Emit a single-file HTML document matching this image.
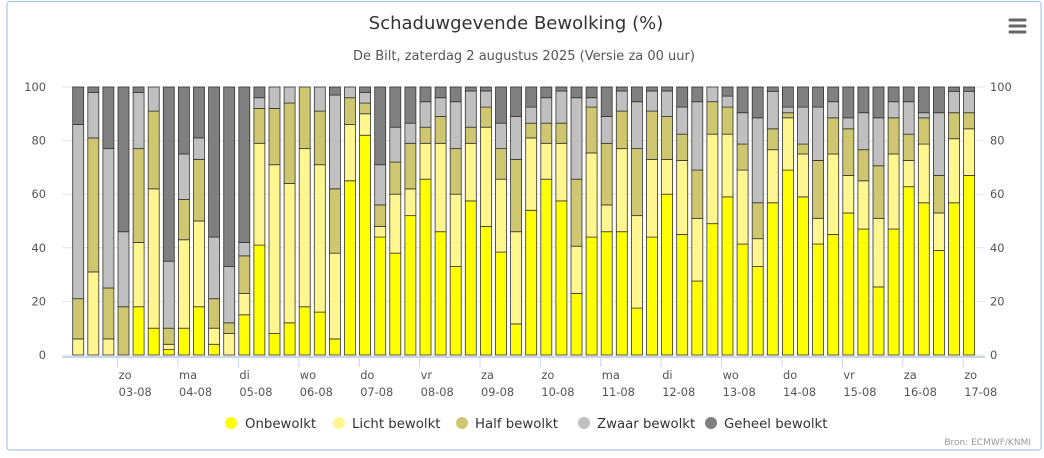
<!DOCTYPE html>
<html><head><meta charset="utf-8"><style>
body{margin:0;background:#fff;width:1044px;height:453px;overflow:hidden}
text{font-family:"DejaVu Sans","Liberation Sans",sans-serif}
</style></head><body>
<svg width="1044" height="453" xmlns="http://www.w3.org/2000/svg">
<rect x="7" y="1.5" width="1034" height="448.5" rx="3" fill="#fff" stroke="#a8c4ee" stroke-width="1.2"/>
<text x="516" y="29" text-anchor="middle" font-size="18" fill="#333">Schaduwgevende Bewolking (%)</text>
<text x="524" y="60" text-anchor="middle" font-size="13" fill="#555">De Bilt, zaterdag 2 augustus 2025 (Versie za 00 uur)</text>
<g stroke="#666" stroke-width="3" stroke-linecap="round"><line x1="1010" y1="20" x2="1025" y2="20"/><line x1="1010" y1="26" x2="1025" y2="26"/><line x1="1010" y1="32" x2="1025" y2="32"/></g>
<g id="grid" stroke="#e6e6e6" stroke-width="1"></g>
<g id="bars"></g>
<g id="lab" font-size="11.4" fill="#555"></g>
<g font-size="13.3" fill="#333">
<circle cx="231" cy="423" r="6" fill="#ffff00"/><text x="245" y="428">Onbewolkt</text>
<circle cx="339" cy="423" r="6" fill="#fff68f"/><text x="352" y="428">Licht bewolkt</text>
<circle cx="462" cy="423" r="6" fill="#cfc76f"/><text x="475" y="428">Half bewolkt</text>
<circle cx="584" cy="423" r="6" fill="#c0c0c0"/><text x="597" y="428">Zwaar bewolkt</text>
<circle cx="711" cy="423" r="6" fill="#808080"/><text x="724" y="428">Geheel bewolkt</text>
</g>
<text x="1031" y="445" text-anchor="end" font-size="9" fill="#999">Bron: ECMWF/KNMI</text>
</svg>
<script>
const d=[[0,6,21,86],[0,31,81,98],[0,6,25,77],[0,0,18,46],[18,42,77,98],[10,62,91,100],[2,4,10,35],[10,43,58,75],[18,50,73,81],[4,10,21,44],[0,8,12,33],[15,23,37,42],[41,79,92,96],[8,71,92,100],[12,64,94,100],[18,77,100,100],[16,71,91,100],[6,38,62,97],[65,86,96,100],[82,90,94,98],[44,48,56,71],[38,60,72,85],[52,62,79,86.5],[65.6,79,85,94.5],[46,79,89,96],[33,60,77,94.5],[57.5,79,85,98.5],[48,85,92.5,98.5],[38.4,65.6,77,86.5],[11.6,46,73,89],[54,81,86.5,92.5],[65.6,79,86.5,96],[57.5,79,86.5,98.5],[23,40.6,65.6,96],[44,75.4,92.5,96],[46,56,79,89],[46,77,91,98.5],[17.5,52,77,94.5],[44,73,91,98.5],[60,73,89,98.5],[45,72.6,82.4,92.5],[27.6,51,69,94.5],[49,82.4,94.5,100],[59,82.4,92.5,96.6],[41.4,69,78.7,90.4],[33,43.4,56.8,88.5],[56.8,76.6,84.4,98.4],[69,88.5,90.4,92.5],[59,75,78.7,92.5],[41.4,51,72.6,92.5],[45,75,88.5,94.5],[53,67,84.4,88.5],[47,65,76.6,90.4],[25.4,51,70.6,88.5],[47,75,88.5,94.5],[62.8,72.6,82.4,94.5],[56.8,78.7,88.5,90.4],[39,53,67,90.4],[56.8,80.7,90.4,98.4],[67,84.4,90.4,98.4]];
const C=["#ffff00","#fff68f","#cfc76f","#c0c0c0","#808080"];
const Y=v=>355-v*2.68,NS="http://www.w3.org/2000/svg";
const mk=(t,a,p)=>{const e=document.createElementNS(NS,t);for(const k in a)e.setAttribute(k,a[k]);p.appendChild(e);return e};
const g=document.getElementById('grid'),b=document.getElementById('bars'),l=document.getElementById('lab');
for(let v=0;v<=100;v+=20){mk('line',{x1:62,x2:985,y1:Y(v),y2:Y(v)},g);
const t=mk('text',{x:46,y:Y(v)+4,'text-anchor':'end'},l);t.textContent=v;
const t2=mk('text',{x:990,y:Y(v)+4},l);t2.textContent=v;}
mk('line',{x1:62,x2:985,y1:357,y2:357,stroke:'#ccd6eb','stroke-width':2},g);
d.forEach((r,i)=>{const x=72.7+15.1*i;const c=[0,...r,100];
for(let k=0;k<5;k++){if(c[k+1]-c[k]<=0)continue;
mk('rect',{x:x,y:Y(c[k+1]),width:11,height:(c[k+1]-c[k])*2.68,fill:C[k],stroke:'#333','stroke-width':0.8},b);}});
const days=[["zo","03-08"],["ma","04-08"],["di","05-08"],["wo","06-08"],["do","07-08"],["vr","08-08"],["za","09-08"],["zo","10-08"],["ma","11-08"],["di","12-08"],["wo","13-08"],["do","14-08"],["vr","15-08"],["za","16-08"],["zo","17-08"]];
days.forEach((dd,k)=>{const x=117.6+60.4*k;mk('line',{x1:x,x2:x,y1:357,y2:367,stroke:'#ccd6eb'},g);
const t=mk('text',{x:x+1,y:379},l);t.textContent=dd[0];const t2=mk('text',{x:x+1,y:396},l);t2.textContent=dd[1];});
</script>
</body></html>
